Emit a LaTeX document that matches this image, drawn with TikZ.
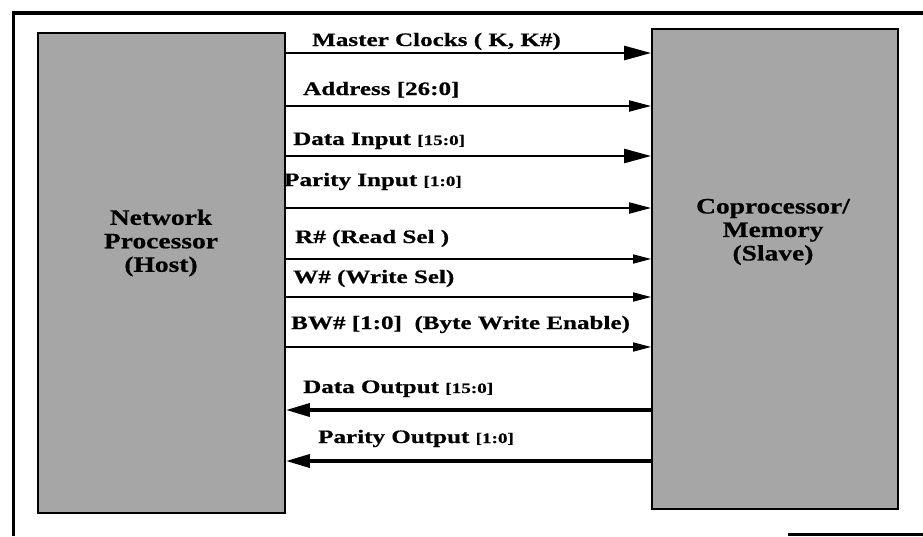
\documentclass[tikz,border=0pt]{standalone}
\usepackage{fontspec}
\setmainfont{Liberation Serif}
\newfontfamily\lblfont{Liberation Serif}[FakeStretch=1.32,FakeBold=0.6]
\newfontfamily\boxfont{Liberation Serif}[FakeStretch=1.25,FakeBold=0.6]
\usetikzlibrary{arrows.meta}

\newcommand\bits[1]{{\fontsize{14.5}{15}\selectfont #1}}

\begin{document}
\begin{tikzpicture}[x=1pt,y=-1pt,
    blockbox/.style={draw=black, line width=1.8pt, fill=black!35, inner sep=0pt},
    blocktext/.style={align=center, font=\boxfont\bfseries\fontsize{22}{23.5}\selectfont, inner sep=0pt},
    siglbl/.style={anchor=base west, inner sep=0pt, font=\lblfont\bfseries\fontsize{19}{20}\selectfont},
    sigbig/.style={line width=2.6pt, -{Triangle[length=27pt,width=14pt]}},
    sigmid/.style={line width=2pt, -{Triangle[length=22pt,width=11pt]}},
    sigthin/.style={line width=1.6pt, -{Triangle[length=18pt,width=9pt]}},
    sigout/.style={line width=3.6pt, -{Triangle[length=24pt,width=13pt]}}]

    \useasboundingbox (0,0) rectangle (923,536);

    % outer frame (cut off at right and bottom)
    \draw[line width=3.6pt] (13.5,536) -- (13.5,13) -- (923,13);
    \draw[line width=3pt] (788,534.5) -- (923,534.5);

    % the two blocks
    \node[blockbox, minimum width=247pt, minimum height=480pt] (host) at (161.5,273) {};
    \node[blockbox, minimum width=246pt, minimum height=480pt] (slave) at (775,269) {};
    \node[blocktext] (hostlbl) at (161,243) {Network\\Processor\\(Host)};
    \node[blocktext] (slavelbl) at (773,232) {Coprocessor/\\Memory\\(Slave)};

    % host -> slave signals
    \foreach \y/\sty in {53/sigbig, 106/sigmid, 156/sigbig, 208/sigmid,
                         259/sigthin, 297/sigthin, 347/sigthin} {
        \draw[\sty] (host.east |- 0,\y) -- (slave.west |- 0,\y);
    }

    % slave -> host signals
    \foreach \y in {410, 461} {
        \draw[sigout] (slave.west |- 0,\y) -- (host.east |- 0,\y);
    }

    % signal names
    \foreach \x/\y/\lbl [count=\i] in {
        312/46/{Master Clocks ( K, K\#)},
        303/95/{Address [26:0]},
        293/145/{Data Input \bits{[15:0]}},
        284/186/{Parity Input \bits{[1:0]}},
        295/243/{R\# (Read Sel )},
        293/283/{W\# (Write Sel)},
        291/329/{BW\# [1:0]\ \ (Byte Write Enable)},
        303/393/{Data Output \bits{[15:0]}},
        318/443/{Parity Output \bits{[1:0]}}} {
        \node[siglbl] (sig\i) at (\x,\y) {\lbl};
    }

\end{tikzpicture}
\end{document}
